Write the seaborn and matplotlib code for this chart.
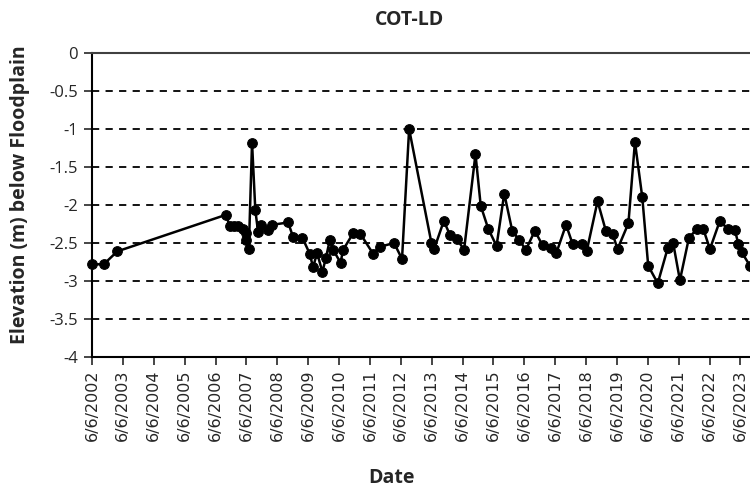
"""Groundwater elevation below floodplain, COT-LD."""
import matplotlib
matplotlib.use("Agg")
import matplotlib.pyplot as plt
import matplotlib.ticker as mticker
import seaborn as sns
import pandas as pd

sns.set_style("white")
plt.rcParams['font.family'] = ['Open Sans', 'DejaVu Sans']

# Data
dates = [
    "2002-06-10", "2002-10-23", "2003-04-01", "2006-10-05", "2006-11-21",
    "2007-01-07", "2007-02-27", "2007-04-27", "2007-05-30", "2007-06-06",
    "2007-07-05", "2007-08-12", "2007-09-20", "2007-10-22", "2007-12-01",
    "2008-02-17", "2008-04-09", "2008-10-12", "2008-12-09", "2009-03-29",
    "2009-06-24", "2009-08-03", "2009-09-19", "2009-11-21", "2010-01-01",
    "2010-02-17", "2010-03-29", "2010-06-24", "2010-07-24", "2010-11-21",
    "2011-02-14", "2011-07-13", "2011-10-01", "2012-03-18", "2012-06-20",
    "2012-09-12", "2013-06-03", "2013-07-05", "2013-10-27", "2014-01-07",
    "2014-04-02", "2014-06-24", "2014-11-06", "2015-01-07", "2015-04-05",
    "2015-07-13", "2015-10-12", "2016-01-15", "2016-04-05", "2016-06-24",
    "2016-10-08", "2017-01-07", "2017-04-15", "2017-06-20", "2017-10-12",
    "2017-12-28", "2018-04-13", "2018-06-13", "2018-10-20", "2019-01-26",
    "2019-04-16", "2019-06-13", "2019-10-20", "2020-01-05", "2020-04-01",
    "2020-06-10", "2020-10-01", "2021-01-26", "2021-04-01", "2021-06-20",
    "2021-10-05", "2022-01-05", "2022-03-22", "2022-06-10", "2022-10-05",
    "2023-01-12", "2023-04-01", "2023-05-12", "2023-06-20", "2023-09-27",
]
elevation = [
    -2.78, -2.78, -2.61, -2.13, -2.27,
    -2.27, -2.28, -2.31, -2.37, -2.46,
    -2.58, -1.18, -2.07, -2.35, -2.26,
    -2.33, -2.26, -2.23, -2.42, -2.43,
    -2.64, -2.82, -2.63, -2.88, -2.70,
    -2.46, -2.59, -2.76, -2.59, -2.37,
    -2.38, -2.64, -2.55, -2.50, -2.71,
    -1.00, -2.50, -2.58, -2.21, -2.39,
    -2.45, -2.59, -1.33, -2.01, -2.31,
    -2.54, -1.85, -2.34, -2.46, -2.59,
    -2.34, -2.53, -2.56, -2.63, -2.26,
    -2.51, -2.51, -2.61, -1.95, -2.34,
    -2.38, -2.58, -2.24, -1.17, -1.90,
    -2.80, -3.03, -2.57, -2.50, -2.99,
    -2.43, -2.32, -2.31, -2.58, -2.21,
    -2.32, -2.33, -2.51, -2.62, -2.80,
]
tick_years = list(range(2002, 2024))
y_ticks = [0, -0.5, -1, -1.5, -2, -2.5, -3, -3.5, -4]

df = pd.DataFrame({"Date": pd.to_datetime(dates), "Elevation": elevation})
tick_dates = [pd.Timestamp(year=y, month=6, day=6) for y in tick_years]

fig = plt.figure(figsize=(7.5, 4.9), dpi=100)
ax = fig.add_axes([92 / 750, 133 / 490, 1 - 92 / 750, 304 / 490])

# dashed horizontal gridlines
for v in y_ticks[1:-1]:
    ax.axhline(v, color='black', linestyle=(0, (4, 3.5)), linewidth=1.3, zorder=1)

sns.lineplot(data=df, x="Date", y="Elevation", ax=ax, sort=False,
             color='black', linewidth=1.8, marker='o', markersize=7,
             markeredgecolor='black', markerfacecolor='black', zorder=3,
             clip_on=False)
ax.set_xlabel("")
ax.set_ylabel("")

ax.set_xlim(pd.Timestamp("2002-06-06"), df["Date"].iloc[-1])
ax.set_ylim(-4, 0)
ax.set_yticks(y_ticks)
ax.yaxis.set_major_formatter(mticker.FuncFormatter(lambda v, p: f"{v:g}"))
ax.set_xticks(tick_dates)
ax.set_xticklabels([f"{d.month}/{d.day}/{d.year}" for d in tick_dates],
                   rotation=90, fontsize=11.5, family='DejaVu Sans')
ax.tick_params(axis='y', labelsize=12, length=6, width=1.2, direction='out',
               left=True, pad=4)
ax.tick_params(axis='x', length=6, width=1.2, direction='out', bottom=True, pad=3)

for side in ['left', 'bottom']:
    ax.spines[side].set_color('black')
    ax.spines[side].set_linewidth(1.5)
ax.spines['top'].set_color('#404040')
ax.spines['top'].set_linewidth(1.5)
ax.spines['right'].set_visible(False)

fig.text(410 / 750, 1 - 20 / 490, "COT-LD", ha='center', va='center',
         fontsize=14, fontweight='bold')
fig.text(20 / 750, 1 - 195 / 490, "Elevation (m) below Floodplain", ha='center',
         va='center', rotation=90, fontsize=14, fontweight='bold')
fig.text(392 / 750, 1 - 478 / 490, "Date", ha='center', va='center',
         fontsize=14, fontweight='bold')

fig.savefig("out.png", dpi=100)
plt.close(fig)
